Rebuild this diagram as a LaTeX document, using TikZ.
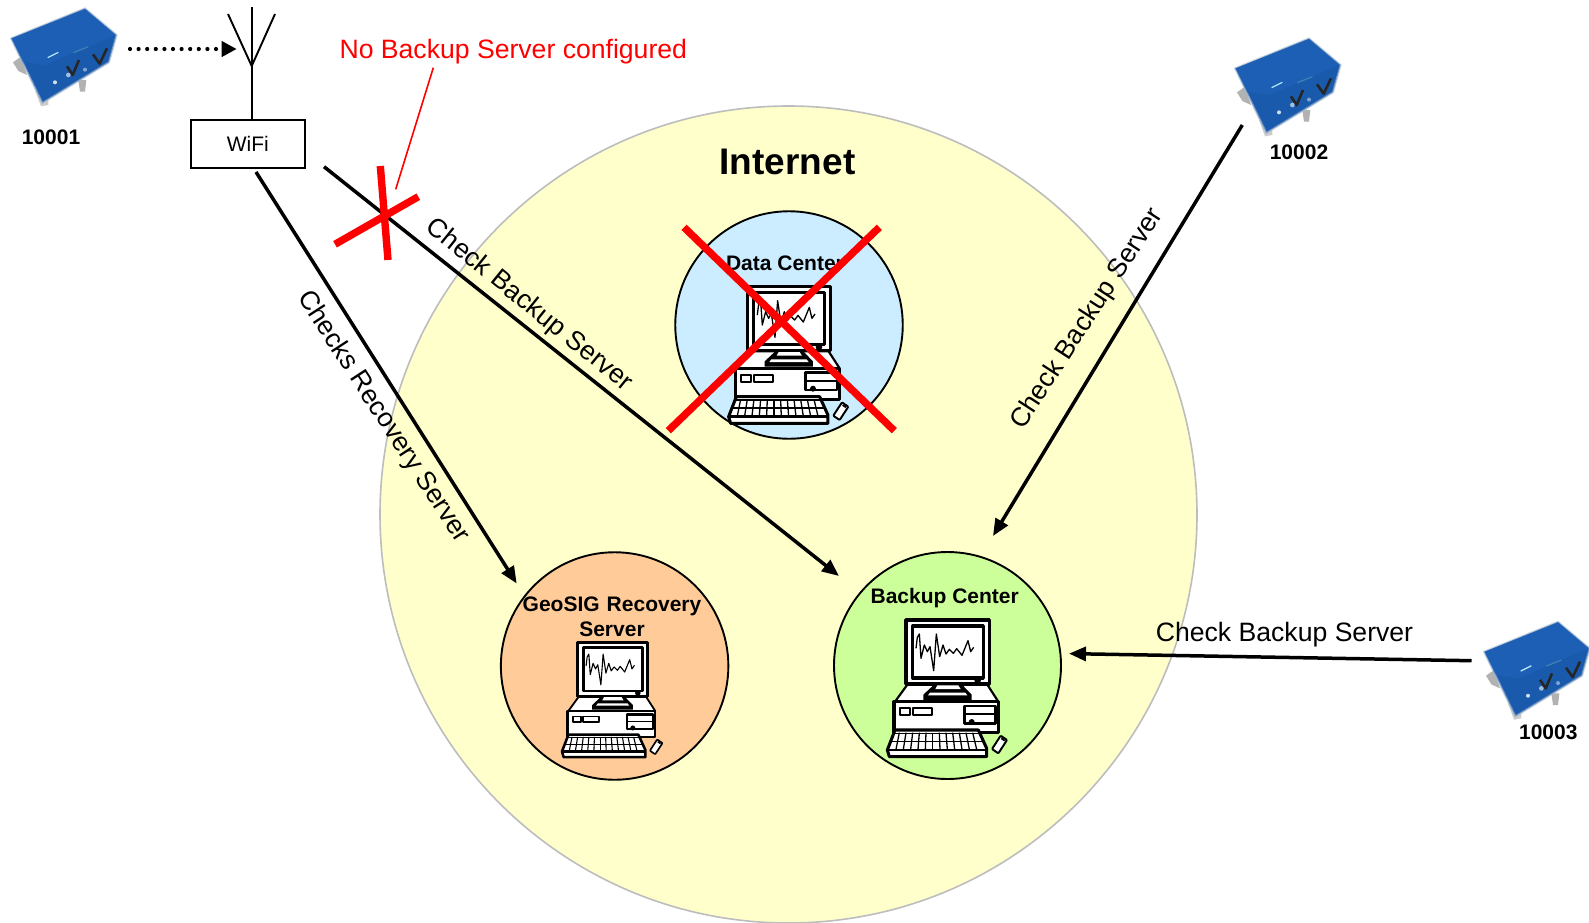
\documentclass[tikz,border=0pt]{standalone}
\usepackage{fontspec}
\setmainfont{Liberation Sans}
\usetikzlibrary{arrows.meta}
\definecolor{netfill}{HTML}{FFFFCC}
\definecolor{netline}{HTML}{BDBDBD}
\definecolor{datafill}{HTML}{CCECFF}
\definecolor{backfill}{HTML}{CCFF99}
\definecolor{geofill}{HTML}{FFCC99}
\definecolor{redx}{HTML}{FF0000}
\definecolor{devtop}{HTML}{1C5FB4}
\definecolor{devfront}{HTML}{1A5AAC}
\definecolor{devedge}{HTML}{A8BBD2}
\newcommand\pxfont[1]{\fontsize{#1pt}{#1pt}\selectfont}
\tikzset{
  zone/.style={circle,draw=black,line width=1.9pt,inner sep=0pt,minimum size=#1},
  flow/.style={draw=black,line width=3.5pt,-{Triangle[length=17pt,width=14pt]}},
  crossline/.style={draw=redx,line width=7.4pt},
  flowlabel/.style={font=\pxfont{26.6},text=black,inner sep=0pt},
  tag/.style={font=\bfseries\pxfont{21},text=black,inner sep=0pt,align=center},
  cw/.style={line width=1.3*#1*\cs pt,draw=black},
}
% computer drawing, coordinates in 1/3 px of the reference
\newcommand\computer[3]{%
\pgfmathsetmacro\cs{#3/3}%
\begin{scope}[shift={(#1,#2)},x=\cs pt,y=-\cs pt,line join=round]
  % case top and front
  \filldraw[fill=white,cw=5] (232,404) -- (195,455) -- (505,455) -- (472,404) -- cycle;
  \filldraw[fill=white,cw=7] (192,455) rectangle (505,548);
  \draw[cw=5] (210,475) rectangle (240,495);
  \draw[cw=5] (248,475) rectangle (305,495);
  \filldraw[fill=white,cw=6] (403,468) rectangle (497,520);
  \draw[cw=4] (403,493) -- (497,493);
  \fill[black] (425,516) circle[radius=9];
  % monitor
  \filldraw[fill=white,cw=8] (228,210) rectangle (478,402);
  \draw[cw=7] (248,228) rectangle (460,384);
  \draw[cw=3] (258,295) -- (262,262) -- (268,252) -- (273,325) -- (283,285) -- (292,305) -- (300,290) -- (311,362) -- (319,252) -- (329,320) -- (339,285) -- (348,312) -- (358,298) -- (370,310) -- (380,296) -- (396,316) -- (414,272) -- (422,305) -- (431,292);
  \fill[black] (443,391) circle[radius=10];
  % stand
  \fill[black] (312,404) -- (396,404) -- (425,434) -- (425,450) -- (280,450) -- (280,434) -- cycle;
  \fill[white] (322,406) -- (385,406) -- (392,417) -- (316,417) -- cycle;
  \fill[white] (300,428) -- (406,428) -- (412,436) -- (294,436) -- cycle;
  % keyboard
  \filldraw[fill=white,cw=7] (195,540) -- (445,540) -- (470,595) -- (470,620) -- (178,620) -- (172,600) -- cycle;
  \draw[cw=6] (174,600) -- (468,600);
  \draw[cw=3] (192,550) -- (451,550);
  \draw[cw=3] (186,574) -- (459,574);
  \foreach \k in {0,...,11}{\draw[cw=3] ({208+\k*20},548) -- ({198+\k*22},598);}
  % mouse
  \filldraw[fill=white,cw=4.5,rounded corners=2.5*\cs pt] (531,570) -- (512,557) -- (486,597) -- (505,610) -- cycle;
  \draw[cw=4] (514,565) -- (524,572);
\end{scope}}
% seismic recorder, coordinates in 1/3 px of the reference
\newcommand\recorder[2]{%
\begin{scope}[shift={(#1,#2)},x=0.3333pt,y=-0.3333pt,line join=round]
  \fill[gray!60] (24,172) -- (48,155) -- (66,210) -- (40,198) -- cycle;
  \fill[gray!60] (220,225) -- (244,225) -- (240,260) -- (225,260) -- cycle;
  \fill[gray!40] (90,255) -- (108,304) -- (130,300) -- (130,270) -- cycle;
  \filldraw[fill=devfront,draw=devedge,draw opacity=.6,line width=2pt] (18,100) -- (240,10) -- (335,90) -- (312,172) -- (112,294) -- cycle;
  \fill[devtop] (20,100) -- (240,12) -- (332,90) -- (120,180) -- (55,170) -- cycle;
  \draw[cyan!30!white,line width=1.3pt] (128,158) -- (160,142);
  \draw[cyan!30!devtop,line width=1.2pt] (205,143) -- (250,125);
  \draw[black!85,line width=2.6pt] (186,184) -- (203,210) -- (222,165);
  \draw[black!85,line width=2.6pt] (264,148) -- (284,176) -- (306,130);
  \fill[white!80!devfront] (150,232) circle[radius=6];
  \fill[white!60!devfront] (190,210) circle[radius=7];
  \fill[white!45!devfront] (240,194) circle[radius=6];
\end{scope}}
\begin{document}
\begin{tikzpicture}[x=1pt,y=-1pt]
\useasboundingbox (0,0) rectangle (1589,922);
\fill[white] (0,0) rectangle (1589,922);
% zones
\node[circle,draw=netline,fill=netfill,line width=1.6pt,inner sep=0pt,minimum size=817pt] (net) at (788.5,514.5) {};
\node[zone=227.5pt,fill=datafill] (data) at (789,325) {};
\node[zone=227pt,fill=backfill] (backup) at (947.5,665.5) {};
\node[zone=227.5pt,fill=geofill] (geo) at (614.6,666) {};
% computers
\computer{671.3}{216.7}{1}
\computer{830}{550}{1}
\computer{513.8}{583.5}{0.84}
% recorders
\recorder{5}{5}
\recorder{1229}{35}
\recorder{1478}{618.4}
\node[tag] (id1) at (51,137) {10001};
\node[tag] (id2) at (1299,152) {10002};
\node[tag] (id3) at (1548.3,732) {10003};
% WiFi with antenna
\node[draw=black,line width=1.9pt,fill=white,minimum width=113.7pt,minimum height=47.4pt,inner sep=0pt,font=\pxfont{21}] (wifi) at (247.8,144) {WiFi};
\coordinate (mast) at (251.7,66);
\coordinate (mastTop) at (251.7,7);
\coordinate (armL) at (228,14);
\coordinate (armR) at (275,14);
\draw[line width=1.9pt] (wifi.north -| mast) -- (mastTop);
\draw[line width=1.9pt] (armL) -- (mast) -- (armR);
% zone titles
\node[font=\bfseries\pxfont{37},inner sep=0pt] (inet) at (787.5,162) {Internet};
\node[tag] (dataT) at (785,263) {Data Center};
\node[tag] (backT) at (944.7,598) {Backup Center};
\node[tag,text width=240pt] (geoT) at (612,617) {GeoSIG Recovery\\[4pt]Server};
% free connector ends
\coordinate (r1) at (130,49);
\coordinate (r1to) at (236.7,49);
\coordinate (wifiA) at (256,172);
\coordinate (geoIn) at (516.7,583.5);
\coordinate (wifiB) at (324,166.7);
\coordinate (backIn1) at (839,576);
\coordinate (r2) at (1242.3,125);
\coordinate (backIn2) at (993,536);
\coordinate (r3) at (1471.5,660.7);
\coordinate (backIn3) at (1069,653.6);
% connectors
\draw[line width=4.2pt,line cap=round,dash pattern=on 0pt off 8.6pt,-{Triangle[length=15pt,width=15pt]}] (r1) -- (r1to);
\draw[flow] (wifiA) -- (geoIn);
\draw[flow] (wifiB) -- (backIn1);
\draw[flow] (r2) -- (backIn2);
\draw[flow] (r3) -- (backIn3);
% connector labels
\node[flowlabel,rotate=-57] (lRec) at (383,417) {Checks Recovery Server};
\node[flowlabel,rotate=-39] (lB1) at (529,305.5) {Check Backup Server};
\node[flowlabel,rotate=57] (lB2) at (1087.5,319) {Check Backup Server};
\node[flowlabel] (lB3) at (1284.5,635) {Check Backup Server};
% red notes
\node[font=\pxfont{26.6},text=redx,inner sep=0pt] (noBk) at (513.3,52) {No Backup Server configured};
\coordinate (noA) at (433.3,67.7);
\coordinate (noB) at (395.7,189.3);
\draw[redx,line width=1.6pt] (noA) -- (noB);
\coordinate (xa1) at (380.3,166); \coordinate (xa2) at (388,260);
\coordinate (xb1) at (418.3,196.7); \coordinate (xb2) at (335,244.3);
\draw[crossline] (xa1) -- (xa2);
\draw[crossline] (xb1) -- (xb2);
\coordinate (dxa1) at (684,227.3); \coordinate (dxa2) at (894.3,430.7);
\coordinate (dxb1) at (879.3,227.3); \coordinate (dxb2) at (668.3,430.7);
\draw[crossline] (dxa1) -- (dxa2);
\draw[crossline] (dxb1) -- (dxb2);
\end{tikzpicture}
\end{document}
